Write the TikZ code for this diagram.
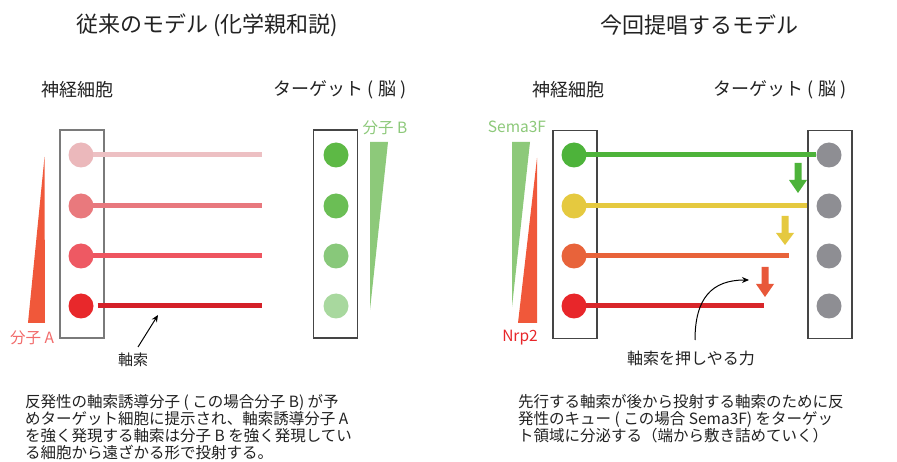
\documentclass[tikz,border=0pt]{standalone}
\usepackage{fontspec}
\setmainfont{Noto Sans CJK JP}
\usetikzlibrary{arrows.meta}
\definecolor{txt}{HTML}{222222}
\definecolor{Lc1}{HTML}{EBB8BB}
\definecolor{Lc2}{HTML}{E9797D}
\definecolor{Lc3}{HTML}{EE5963}
\definecolor{Lc4}{HTML}{E8282B}
\definecolor{La1}{HTML}{EDC0C3}
\definecolor{La2}{HTML}{E8787E}
\definecolor{La3}{HTML}{EE5560}
\definecolor{La4}{HTML}{D42028}
\definecolor{Tg1}{HTML}{5DB945}
\definecolor{Tg2}{HTML}{6BBE55}
\definecolor{Tg3}{HTML}{88C87A}
\definecolor{Tg4}{HTML}{A8D89E}
\definecolor{redtri}{HTML}{F0583A}
\definecolor{greentri}{HTML}{8DC97A}
\definecolor{labred}{HTML}{F26B6B}
\definecolor{Rg}{HTML}{4DB33A}
\definecolor{Ry}{HTML}{E5C93F}
\definecolor{Ro}{HTML}{E8633A}
\definecolor{Rr}{HTML}{E8262A}
\definecolor{Rra}{HTML}{D8262A}
\definecolor{Rao}{HTML}{E8583A}
\definecolor{gcell}{HTML}{8E8E93}
\definecolor{boxl}{HTML}{7A7A7A}
\definecolor{boxd}{HTML}{454545}
\begin{document}
\begin{tikzpicture}[x=1pt,y=-1pt,
  cell/.style={circle, minimum size=25pt, inner sep=0pt, draw=none, fill=#1},
  frame/.style={draw=#1, line width=1.5pt, minimum width=44pt, minimum height=208pt, inner sep=0pt},
  axon/.style={line width=5pt, draw=#1},
  title/.style={font=\fontsize{22}{26}\selectfont, text=txt, inner sep=0pt},
  head/.style={font=\fontsize{18}{22}\selectfont, text=txt, inner sep=0pt},
  lab/.style={font=\fontsize{15.5}{18}\selectfont, inner sep=0pt},
  body/.style={font=\fontsize{15.5}{17}\selectfont, text=txt, inner sep=0pt, align=left, anchor=north west},
  pointer/.style={draw=black, line width=1pt, -{Stealth[length=7pt,width=6pt]}}
]
\useasboundingbox[fill=white] (0,0) rectangle (897,462);

% titles
\node[title] (t1) at (207,25) {従来のモデル (化学親和説)};
\node[title] (t2) at (699,25) {今回提唱するモデル};

% headers
\node[head] (h1) at (77,90) {神経細胞};
\node[head] (h2) at (340,90) {ターゲット ( 脳 )};
\node[head] (h3) at (568,90) {神経細胞};
\node[head] (h4) at (780,90) {ターゲット ( 脳 )};

% ---------- left panel ----------
\node[frame=boxl] (nl) at (82,234) {};
\node[frame=boxd] (tl) at (335.5,234) {};

\fill[redtri] (28,323) -- (45,323) -- (44.5,157) -- cycle;
\fill[greentri] (370,142) -- (388,142) -- (370,310) -- cycle;

\node[cell=Lc1] (a1) at (81,155) {};
\node[cell=Lc2] (a2) at (81,206) {};
\node[cell=Lc3] (a3) at (81,256) {};
\node[cell=Lc4] (a4) at (81,306) {};

\coordinate (e1) at (262,155);
\coordinate (e2) at (262,206);
\coordinate (e3) at (262,256);
\coordinate (e4) at (262,306);
\draw[axon=La1] ([xshift=-1pt]a1.east) -- (e1);
\draw[axon=La2] ([xshift=-1pt]a2.east) -- (e2);
\draw[axon=La3] ([xshift=-1pt]a3.east) -- (e3);
\draw[axon=La4] ([xshift=4pt]a4.east) -- (e4);

\node[cell=Tg1] (b1) at (336,155) {};
\node[cell=Tg2] (b2) at (336,206) {};
\node[cell=Tg3] (b3) at (336,256) {};
\node[cell=Tg4] (b4) at (336,306) {};

\node[lab, text=labred] (la) at (32,338) {分子 A};
\node[lab, text=greentri] (lb) at (385,128) {分子 B};
\node[lab, font=\fontsize{15}{18}\selectfont, text=txt] (lx) at (133,360) {軸索};
\coordinate (p0) at (138,347);
\coordinate (px) at (158,315);
\draw[pointer] (p0) -- (px);

\node[body] (bl) at (25,394) {反発性の軸索誘導分子 ( この場合分子 B) が予\\めターゲット細胞に提示され、軸索誘導分子 A\\を強く発現する軸索は分子 B を強く発現してい\\る細胞から遠ざかる形で投射する。};

% ---------- right panel ----------
\node[frame=boxd] (nr) at (575,234.5) {};
\node[frame=boxd] (tr) at (830,234.5) {};

\fill[greentri] (512,142) -- (530,142) -- (512,307) -- cycle;
\fill[redtri] (537,158) -- (537,323) -- (518,323) -- cycle;

\node[cell=gcell] (g1) at (829,155) {};
\node[cell=gcell] (g2) at (829,206) {};
\node[cell=gcell] (g3) at (829,256) {};
\node[cell=gcell] (g4) at (829,306) {};

\node[cell=Rg] (r1) at (574,155) {};
\node[cell=Ry] (r2) at (574,206) {};
\node[cell=Ro] (r3) at (574,256) {};
\node[cell=Rr] (r4) at (574,306) {};

\coordinate (f2) at (807,206);
\coordinate (f3) at (789,256);
\coordinate (f4) at (764,306);
\draw[axon=Rg] ([xshift=-1pt]r1.east) -- (g1.west);
\draw[axon=Ry] ([xshift=-1pt]r2.east) -- (f2);
\draw[axon=Ro] ([xshift=-1pt]r3.east) -- (f3);
\draw[axon=Rra] ([xshift=-1pt]r4.east) -- (f4);

% push arrows (block arrows)
\fill[Rg]  (794.5,163) -- (801.5,163) -- (801.5,180) -- (807,180) -- (798,193) -- (789,180) -- (794.5,180) -- cycle;
\fill[Ry]  (781.5,216) -- (788.5,216) -- (788.5,233) -- (794,233) -- (785,245) -- (776,233) -- (781.5,233) -- cycle;
\fill[Rao] (761.5,267) -- (768.5,267) -- (768.5,284) -- (774,284) -- (765,297) -- (756,284) -- (761.5,284) -- cycle;

\node[lab, text=greentri] (ls) at (517,127) {Sema3F};
\node[lab, text=Rr] (ln) at (520,338) {Nrp2};

\node[lab, font=\fontsize{16}{19}\selectfont, text=txt] (lf) at (691,358) {軸索を押しやる力};
\coordinate (q0) at (695,340);
\coordinate (q1) at (749,280);
\draw[pointer] (q0) .. controls (695,298) and (712,280) .. (q1);

\node[body] (br) at (518,394) {先行する軸索が後から投射する軸索のために反\\発性のキュー ( この場合 Sema3F) をターゲッ\\ト領域に分泌する（端から敷き詰めていく）};
\end{tikzpicture}
\end{document}
